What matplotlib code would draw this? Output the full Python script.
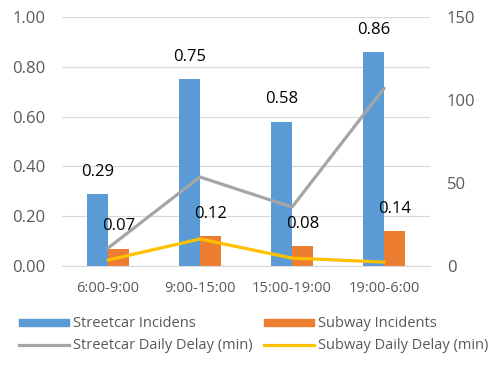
import matplotlib
matplotlib.use("Agg")
import matplotlib.pyplot as plt
import numpy as np
from matplotlib.lines import Line2D
from matplotlib.patches import Patch

plt.rcParams['font.family'] = ['Open Sans', 'DejaVu Sans']

periods = ["6:00-9:00", "9:00-15:00", "15:00-19:00", "19:00-6:00"]
streetcar_incidents = [0.29, 0.75, 0.58, 0.86]
subway_incidents = [0.07, 0.12, 0.08, 0.14]
streetcar_delay = [10.8, 53.6, 35.5, 107.0]
subway_delay = [3.6, 16.3, 4.8, 2.4]

blue = "#5b9bd5"
orange = "#ed7d31"
gray = "#a5a5a5"
yellow = "#ffc000"
tick_color = "#595959"

fig = plt.figure(figsize=(4.99, 3.66), dpi=100)
ax = fig.add_axes([0.124, 0.273, 0.738, 0.681])
ax2 = ax.twinx()

x = np.arange(len(periods))
w = 0.23
b1 = ax.bar(x - w / 2, streetcar_incidents, w, color=blue, zorder=2)
b2 = ax.bar(x + w / 2, subway_incidents, w, color=orange, zorder=2)

for bars, vals in ((b1, streetcar_incidents), (b2, subway_incidents)):
    for bar, v in zip(bars, vals):
        ax.annotate(f"{v:.2f}", (bar.get_x() + bar.get_width() / 2, v),
                    xytext=(0, 16), textcoords="offset points",
                    ha="center", va="center", fontsize=12, color="#000000")

ax2.plot(x, streetcar_delay, color=gray, lw=2.3, solid_capstyle="round", zorder=3)
ax2.plot(x, subway_delay, color=yellow, lw=2.3, solid_capstyle="round", zorder=3)

ax.set_xlim(-0.5, len(periods) - 0.5)
ax.set_ylim(0, 1.0)
ax.set_yticks(np.arange(0, 1.01, 0.2))
ax.set_yticklabels([f"{t:.2f}" for t in np.arange(0, 1.01, 0.2)])
ax2.set_ylim(0, 150)
ax2.set_yticks([0, 50, 100, 150])

ax.set_xticks(x)
ax.set_xticklabels(periods)
ax.yaxis.grid(True, color="#d9d9d9", lw=0.9, zorder=0)
ax.set_axisbelow(True)

for a in (ax, ax2):
    for s in a.spines.values():
        s.set_visible(False)
    a.tick_params(length=0, colors=tick_color, labelsize=12)
ax.spines['bottom'].set_visible(True)
ax.spines['bottom'].set_color("#d9d9d9")
ax.tick_params(axis='y', pad=12)
ax.tick_params(axis='x', labelsize=10.5, pad=11)
ax2.tick_params(axis='y', pad=12)

handles = [Patch(color=blue), Line2D([], [], color=gray, lw=2.3),
           Patch(color=orange), Line2D([], [], color=yellow, lw=2.3)]
labels = ["Streetcar Incidens", "Streetcar Daily Delay (min)",
          "Subway Incidents", "Subway Daily Delay (min)"]
fig.legend(handles, labels, ncol=2, loc="lower left",
           bbox_to_anchor=(0.012, 0.0), frameon=False, fontsize=10.5,
           labelcolor=tick_color, handlelength=3.4, handleheight=0.35,
           handletextpad=0.3, columnspacing=0.8, labelspacing=0.45)

fig.savefig("out.png", dpi=100)
